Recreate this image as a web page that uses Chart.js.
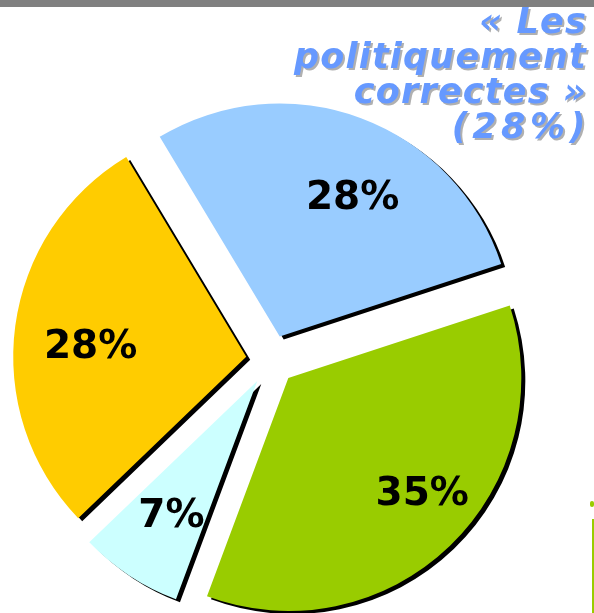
<!DOCTYPE html>
<html>
<head>
<meta charset="utf-8">
<script src="https://cdn.jsdelivr.net/npm/chart.js@4"></script>
<style>
  body { margin: 0; background: #fff; }
  #slide { position: relative; width: 594px; height: 613px; overflow: hidden; background: #fff; }
  #topBar { position: absolute; left: 0; top: 0; width: 594px; height: 7px; background: #808080; }
  #caption { position: absolute; right: 7px; top: 4px; text-align: right; font: italic bold 35px/35px "DejaVu Sans"; letter-spacing: 1.2px; color: #6699ff; text-shadow: 2px 2px 0 #b0b0b0; white-space: nowrap; }
  #caption .wide { letter-spacing: 4.5px; margin-right: -3px; }
  #edgeLine { position: absolute; left: 592px; top: 519px; width: 2px; height: 94px; background: #99cc00; }
  #edgeDot { position: absolute; left: 590px; top: 501px; width: 4px; height: 6px; border-radius: 2px; background: #99cc00; }
  #pie { position: absolute; left: 0; top: 0; }
</style>
</head>
<body>
<div id="slide">
  <canvas id="pie" width="594" height="613"></canvas>
  <div id="topBar"></div>
  <div id="caption">« Les<br>politiquement<br>correctes »<br><span class="wide">(28%)</span></div>
  <div id="edgeDot"></div>
  <div id="edgeLine"></div>
</div>
<script>
// slices, clockwise from the upper left edge
let sliceValues = [28, 35, 7, 28];
let sliceLabels = ["28%", "35%", "7%", "28%"];
let sliceColors = ["#99ccff", "#99cc00", "#ccffff", "#ffcc00"];

// look of the exploded pie
let explodeDistance = 25;
let labelRadius = 160;
let labelNudge = [[17, 8], [23, -2], [2, -2], [3, 8]];

const explodedSlices = {
  id: "explodedSlices",
  beforeDatasetDraw(chart, { meta }) {
    let ctx = chart.ctx;
    ctx.save();
    ctx.shadowColor = "#000";
    ctx.shadowOffsetX = 4;
    ctx.shadowOffsetY = 3;
    ctx.shadowBlur = 0;
    meta.data.forEach((arc) => {
      let mid = (arc.startAngle + arc.endAngle) / 2;
      ctx.save();
      ctx.translate(Math.cos(mid) * explodeDistance, Math.sin(mid) * explodeDistance);
      arc.draw(ctx);
      ctx.restore();
    });
    ctx.restore();
    return false;
  },
  afterDatasetsDraw(chart) {
    let ctx = chart.ctx;
    ctx.save();
    ctx.font = "bold 39px 'DejaVu Sans'";
    ctx.fillStyle = "#000";
    ctx.textAlign = "center";
    ctx.textBaseline = "alphabetic";
    chart.getDatasetMeta(0).data.forEach((arc, i) => {
      let mid = (arc.startAngle + arc.endAngle) / 2;
      let r = explodeDistance + labelRadius;
      ctx.fillText(sliceLabels[i], arc.x + Math.cos(mid) * r + labelNudge[i][0], arc.y + Math.sin(mid) * r + labelNudge[i][1] + 14);
    });
    ctx.restore();
  }
};

new Chart(document.getElementById("pie"), {
  type: "pie",
  data: {
    labels: sliceLabels,
    datasets: [{
      data: sliceValues,
      backgroundColor: sliceColors,
      borderWidth: 0
    }]
  },
  options: {
    responsive: false,
    animation: false,
    rotation: -31,
    radius: 233,
    layout: { padding: { left: 0, right: 52, top: 107, bottom: 0 } },
    plugins: {
      legend: { display: false },
      tooltip: { enabled: false }
    }
  },
  plugins: [explodedSlices]
});
</script>
</body>
</html>
